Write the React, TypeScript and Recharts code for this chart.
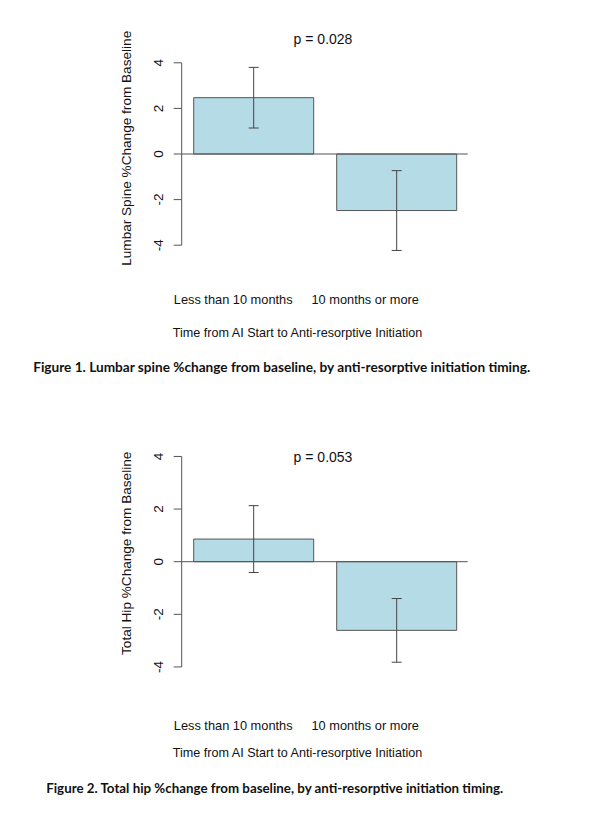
// @ts-nocheck
import React from 'react';
import { BarChart, Bar, XAxis, YAxis, ErrorBar, ReferenceLine } from 'recharts';

// category labels on the x axis
const categories = ['Less than 10 months', '10 months or more'];

// mean % change and error half-widths
const spineMeans = [2.47, -2.48];
const spineErrors = [1.33, 1.75];
const hipMeans = [0.86, -2.61];
const hipErrors = [1.27, 1.21];

const yTicks = [-4, -2, 0, 2, 4];
const yDomain = [-4.5, 4.5];

const xTitle = 'Time from AI Start to Anti-resorptive Initiation';
const spineLabel = 'Lumbar Spine %Change from Baseline';
const hipLabel = 'Total Hip %Change from Baseline';
const spineP = 'p = 0.028';
const hipP = 'p = 0.053';
const caption1 = 'Figure 1. Lumbar spine %change from baseline, by anti-resorptive initiation timing.';
const caption2 = 'Figure 2. Total hip %change from baseline, by anti-resorptive initiation timing.';

const FONT = '"Liberation Sans", Arial, sans-serif';
const INK = '#555';
const FILL = '#b5dbe6';

// x tick labels sit a little left of the bar centres in the original
const tickShift = [-20, -31];

function makeRows(means, errors) {
  return categories.map((name, i) => ({ name, value: means[i], err: errors[i] }));
}

function XTick({ x, y, payload, index, dy }) {
  return (
    <text x={x + tickShift[index]} y={y + dy} textAnchor="middle" fontFamily={FONT} fontSize={12.8} fill="#111">
      {payload.value}
    </text>
  );
}

function YTick({ x, y, payload }) {
  const bx = x - 10.5;
  return (
    <text x={bx} y={y} transform={`rotate(-90, ${bx}, ${y})`} textAnchor="middle" fontFamily={FONT} fontSize={13.5} fill="#111">
      {payload.value}
    </text>
  );
}

function Panel({ rows, marginTop, marginBottom, tickDy }) {
  return (
    <BarChart
      width={604}
      height={320}
      data={rows}
      margin={{ top: marginTop, right: 136.3, bottom: marginBottom, left: 121.7 }}
      barSize={120}
    >
      <XAxis
        dataKey="name"
        axisLine={false}
        tickLine={false}
        tickSize={0}
        tickMargin={0}
        height={50}
        interval={0}
        tick={(p) => <XTick {...p} dy={tickDy} />}
      />
      <XAxis xAxisId="edge" type="number" domain={[0, 1]} hide allowDataOverflow />
      <YAxis
        type="number"
        domain={yDomain}
        ticks={yTicks}
        width={60}
        axisLine={false}
        tickLine={{ stroke: INK }}
        tickSize={8}
        tickMargin={0}
        tick={<YTick />}
      />
      <ReferenceLine
        xAxisId="edge"
        segment={[{ x: 0, y: -4 }, { x: 0, y: 4 }]}
        stroke={INK}
        ifOverflow="visible"
      />
      <Bar dataKey="value" fill={FILL} stroke={INK} strokeWidth={1} isAnimationActive={false}>
        <ErrorBar dataKey="err" width={5} stroke="#444" strokeWidth={1} direction="y" isAnimationActive={false} />
      </Bar>
      <ReferenceLine y={0} stroke={INK} strokeWidth={1} />
    </BarChart>
  );
}

export default function App() {
  const spineRows = makeRows(spineMeans, spineErrors);
  const hipRows = makeRows(hipMeans, hipErrors);
  return (
    <div style={{ position: 'relative', width: 604, height: 820, background: '#fff', overflow: 'hidden' }}>
      <style>{'body{margin:0}'}</style>
      <div style={{ position: 'absolute', left: 0, top: 0 }}>
        <Panel rows={spineRows} marginTop={51.4} marginBottom={13.4} tickDy={47.2} />
      </div>
      <div style={{ position: 'absolute', left: 0, top: 420 }}>
        <Panel rows={hipRows} marginTop={23.3} marginBottom={9.9} tickDy={49.4} />
      </div>
      <svg width={604} height={820} style={{ position: 'absolute', left: 0, top: 0, pointerEvents: 'none' }}>
        <g fontFamily={FONT} fill="#111">
          <text x={323} y={44.3} textAnchor="middle" fontSize={14}>{spineP}</text>
          <text x={323} y={461.7} textAnchor="middle" fontSize={14}>{hipP}</text>
          <text x={297.5} y={337.2} textAnchor="middle" fontSize={12.6}>{xTitle}</text>
          <text x={297.5} y={757.2} textAnchor="middle" fontSize={12.6}>{xTitle}</text>
          <text x={131} y={148.3} transform="rotate(-90, 131, 148.3)" textAnchor="middle" fontSize={13.6}>{spineLabel}</text>
          <text x={131} y={553.3} transform="rotate(-90, 131, 553.3)" textAnchor="middle" fontSize={13.6}>{hipLabel}</text>
        </g>
        <g fontFamily='Lato, "Open Sans", sans-serif' fontWeight={700} fontSize={13.5} fill="#111">
          <text x={281.7} y={372} textAnchor="middle" textLength={497} lengthAdjust="spacingAndGlyphs">{caption1}</text>
          <text x={274.7} y={793} textAnchor="middle" textLength={457} lengthAdjust="spacingAndGlyphs">{caption2}</text>
        </g>
      </svg>
    </div>
  );
}
